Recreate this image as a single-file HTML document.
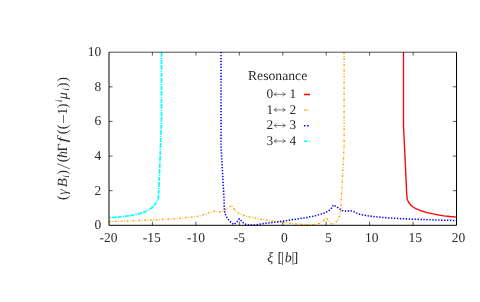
<!DOCTYPE html>
<html><head><meta charset="utf-8"><title>plot</title>
<style>
html,body{margin:0;padding:0;background:#fff;}
svg{display:block;will-change:transform;}
text{text-rendering:geometricPrecision;font-family:"Liberation Serif",serif;font-size:13.3px;fill:#2b2b2b;}
.yl text{font-size:14px;}
.yl text.pa{font-size:14.3px;}
.it{font-style:italic;}
text.tk{font-size:13.5px;}
.yl text.sm{font-size:9.8px;}
</style></head><body>
<svg width="480" height="302" viewBox="0 0 480 302">
<rect x="0" y="0" width="480" height="302" fill="#ffffff"/>

<g fill="none" stroke-linejoin="round">
<path d="M109.0,221.5 L130.0,220.9 L152.0,220.0 L170.0,219.2 L185.0,217.8 L200.0,215.9 L206.0,214.0 L210.7,211.9 L214.5,211.2 L218.2,211.8 L220.0,211.8 L222.0,211.3 L224.5,210.2 L227.0,208.7 L229.5,207.0 L231.8,205.8 L233.5,208.0 L235.0,210.5 L237.0,212.3 L240.5,214.0 L245.0,215.8 L250.0,217.0 L255.0,218.0 L258.0,218.8 L264.0,219.7 L270.0,220.6 L276.0,221.5 L282.0,222.2 L288.0,223.0 L294.0,223.8 L300.0,224.3 L306.0,224.7 L310.0,225.0 L313.0,224.8 L316.5,224.3 L319.5,223.3 L322.0,222.0 L324.5,219.5 L326.5,217.5 L328.5,220.5 L330.0,222.8 L332.0,224.0 L334.5,223.3 L336.5,221.5 L338.0,219.0 L339.5,216.0 L340.3,213.0 L341.0,208.0 L341.2,204.0 L341.3,198.0 L342.0,186.0 L344.1,146.0 L344.1,52.0" stroke="#ffa500" stroke-width="1.4" stroke-dasharray="1.9 1.4 0.7 1.85"/>
<path d="M221.0,52.0 L221.0,146.0 L223.3,186.0 L224.0,198.0 L224.2,207.0 L224.5,211.0 L225.0,213.5 L226.2,216.3 L227.6,218.5 L229.5,221.0 L231.8,223.0 L233.8,224.5 L236.3,222.8 L238.0,220.5 L239.3,218.8 L241.5,221.0 L243.5,223.0 L246.0,224.5 L249.0,225.0 L252.0,225.0 L255.0,224.9 L258.0,224.5 L264.0,223.5 L270.0,222.8 L276.0,222.0 L282.0,221.3 L288.0,220.3 L294.0,219.5 L300.0,218.6 L306.0,217.7 L310.0,216.8 L313.0,216.2 L316.0,215.5 L319.5,214.5 L322.5,213.5 L325.0,212.8 L328.0,211.3 L330.5,209.5 L332.0,207.5 L333.5,205.0 L336.0,206.5 L339.0,208.3 L341.0,210.0 L343.5,211.0 L347.0,211.2 L350.5,210.8 L353.0,211.3 L355.5,212.5 L358.0,213.7 L361.0,214.5 L364.0,215.2 L369.5,216.0 L375.0,216.7 L381.0,217.3 L387.0,217.8 L393.0,218.2 L398.0,218.5 L410.0,219.1 L425.0,219.6 L440.0,220.1 L456.5,220.5" stroke="#0000ff" stroke-width="1.55" stroke-dasharray="1.35 1.6"/>
<path d="M161.5,52.0 L161.5,120.0 L159.8,165.0 L158.8,190.0 L158.5,195.0 L158.2,199.3 L156.7,202.0 L155.2,204.3 L153.2,206.5 L150.3,208.8 L147.5,210.6 L143.5,212.4 L138.5,213.9 L133.0,215.1 L127.0,216.0 L121.0,216.8 L115.0,217.3 L109.0,217.7" stroke="#00ffff" stroke-width="1.7" stroke-dasharray="4.8 1.1 1 1.1 3.9 1.1"/>
<path d="M403.5,52.0 L403.5,126.0 L405.8,174.0 L406.5,190.0 L406.8,195.0 L407.2,199.3 L408.5,202.0 L410.0,204.2 L412.0,206.2 L415.0,208.2 L418.0,209.7 L422.0,211.2 L427.0,212.6 L432.0,213.7 L438.0,214.8 L444.0,215.8 L450.0,216.5 L456.5,217.1" stroke="#ff0000" stroke-width="1.35"/>
</g>
<g stroke="#000" stroke-width="1.0" fill="none">
<path d="M109.0,52.2 L109.0,225.3 L456.5,225.3 L456.5,52.2"/>
</g>
<path d="M109.0,52.2 L456.5,52.2" stroke="#000" stroke-width="0.7" fill="none"/>
<path d="M152.4,225.3 v-3.6 M152.4,52.2 v3.4 M195.9,225.3 v-3.6 M195.9,52.2 v3.4 M239.3,225.3 v-3.6 M239.3,52.2 v3.4 M282.8,225.3 v-3.6 M282.8,52.2 v3.4 M326.2,225.3 v-3.6 M326.2,52.2 v3.4 M369.6,225.3 v-3.6 M369.6,52.2 v3.4 M413.1,225.3 v-3.6 M413.1,52.2 v3.4 M109.0,190.7 h3.6 M456.5,190.7 h-3.6 M109.0,156.1 h3.6 M456.5,156.1 h-3.6 M109.0,121.4 h3.6 M456.5,121.4 h-3.6 M109.0,86.8 h3.6 M456.5,86.8 h-3.6" stroke="#000" stroke-width="0.65" fill="none"/>
<text transform="translate(101.2,229.2) scale(1,1)" text-anchor="end" class="tk">0</text>
<text transform="translate(101.2,194.6) scale(1,1)" text-anchor="end" class="tk">2</text>
<text transform="translate(101.2,160.0) scale(1,1)" text-anchor="end" class="tk">4</text>
<text transform="translate(101.2,125.3) scale(1,1)" text-anchor="end" class="tk">6</text>
<text transform="translate(101.2,90.7) scale(1,1)" text-anchor="end" class="tk">8</text>
<text transform="translate(101.2,56.1) scale(1,1)" text-anchor="end" class="tk">10</text>
<text transform="translate(108.5,242.2) scale(1,1)" text-anchor="middle" class="tk">-20</text>
<text transform="translate(151.7,242.2) scale(1,1)" text-anchor="middle" class="tk">-15</text>
<text transform="translate(195.9,242.2) scale(1,1)" text-anchor="middle" class="tk">-10</text>
<text transform="translate(239.3,242.2) scale(1,1)" text-anchor="middle" class="tk">-5</text>
<text transform="translate(284.4,242.2) scale(1,1)" text-anchor="middle" class="tk">0</text>
<text transform="translate(328.3,242.2) scale(1,1)" text-anchor="middle" class="tk">5</text>
<text transform="translate(371.7,242.2) scale(1,1)" text-anchor="middle" class="tk">10</text>
<text transform="translate(415.2,242.2) scale(1,1)" text-anchor="middle" class="tk">15</text>
<text transform="translate(458.5,242.2) scale(1,1)" text-anchor="middle" class="tk">20</text>
<g class="yl"><text x="267.2" y="261.7" class="it">ξ</text><text x="277.5" y="261.7" class="pa">[</text><text x="281.1" y="261.7" class="pa">|</text><text x="284.8" y="261.7" class="it">b</text><text x="291.4" y="261.7" class="pa">|</text><text x="293.5" y="261.7" class="pa">]</text></g>
<text x="248" y="79.9" textLength="59.2" lengthAdjust="spacingAndGlyphs" style="font-size:13.6px">Resonance</text>
<text x="266.4" y="98.1">0</text><path d="M274.2,94.3 h11 M276.6,92.2 q-0.6,1.5 -2.6,2.1 q2,0.6 2.6,2.1 M282.8,92.2 q0.6,1.5 2.6,2.1 q-2,0.6 -2.6,2.1" stroke="#2b2b2b" stroke-width="0.6" fill="none"/><text x="289.6" y="98.1">1</text>
<path d="M304.0,94.5 h6" stroke="#ff0000" stroke-width="1.6" fill="none"/>
<text x="266.4" y="113.7">1</text><path d="M274.2,109.9 h11 M276.6,107.8 q-0.6,1.5 -2.6,2.1 q2,0.6 2.6,2.1 M282.8,107.8 q0.6,1.5 2.6,2.1 q-2,0.6 -2.6,2.1" stroke="#2b2b2b" stroke-width="0.6" fill="none"/><text x="289.6" y="113.7">2</text>
<path d="M304.2,110.1 h5" stroke="#ffa500" stroke-width="1.2" stroke-dasharray="2.3 1 1 5" fill="none"/>
<text x="266.4" y="129.3">2</text><path d="M274.2,125.5 h11 M276.6,123.4 q-0.6,1.5 -2.6,2.1 q2,0.6 2.6,2.1 M282.8,123.4 q0.6,1.5 2.6,2.1 q-2,0.6 -2.6,2.1" stroke="#2b2b2b" stroke-width="0.6" fill="none"/><text x="289.6" y="129.3">3</text>
<path d="M303.9,125.7 h5" stroke="#0000ff" stroke-width="1.5" stroke-dasharray="1.5 1.7" fill="none"/>
<text x="266.4" y="144.9">3</text><path d="M274.2,141.1 h11 M276.6,139.0 q-0.6,1.5 -2.6,2.1 q2,0.6 2.6,2.1 M282.8,139.0 q0.6,1.5 2.6,2.1 q-2,0.6 -2.6,2.1" stroke="#2b2b2b" stroke-width="0.6" fill="none"/><text x="289.6" y="144.9">4</text>
<path d="M304.1,141.3 h6" stroke="#00ffff" stroke-width="1.5" stroke-dasharray="3.5 1.4 0.9 5" fill="none"/>
<g class="yl" transform="translate(66.7,199.7) rotate(-90)">
<text x="1.95" y="0.3" text-anchor="middle" class="pa">(</text>
<text x="7.7" y="0" text-anchor="middle" class="it">γ</text>
<text transform="translate(16.9,0) scale(1.06,1)" x="0" y="0" text-anchor="middle" class="it">B</text>
<text x="23.2" y="2.0" text-anchor="middle" class="it sm">i</text>
<text x="27.45" y="0.3" text-anchor="middle" class="pa">)</text>
<path d="M30.8,3.2 L36.1,-9.6" stroke="#2b2b2b" stroke-width="0.7" fill="none"/>
<text x="39.95" y="0.3" text-anchor="middle" class="pa">(</text>
<text x="45.2" y="0" text-anchor="middle" class="it">ħ</text>
<text x="52.2" y="0" text-anchor="middle">Γ</text>
<text transform="translate(59.9,0) scale(1.35,1)" x="0" y="0" text-anchor="middle" class="it">f</text>
<text x="67.95" y="0.3" text-anchor="middle" class="pa">(</text>
<text x="72.95" y="0.3" text-anchor="middle" class="pa">(</text>
<path d="M76.7,-3.2 H84.7" stroke="#2b2b2b" stroke-width="0.7" fill="none"/>
<text x="88.45" y="0" text-anchor="middle">1</text>
<text x="93.95" y="0.3" text-anchor="middle" class="pa">)</text>
<text x="98.7" y="-4.6" text-anchor="middle" class="it sm">i</text>
<text x="103.9" y="0" text-anchor="middle" class="it">μ</text>
<text x="110.4" y="2.0" text-anchor="middle" class="it sm">i</text>
<text x="114.95" y="0.3" text-anchor="middle" class="pa">)</text>
<text x="120.3" y="0.3" text-anchor="middle" class="pa">)</text>
</g>
</svg>
</body></html>
